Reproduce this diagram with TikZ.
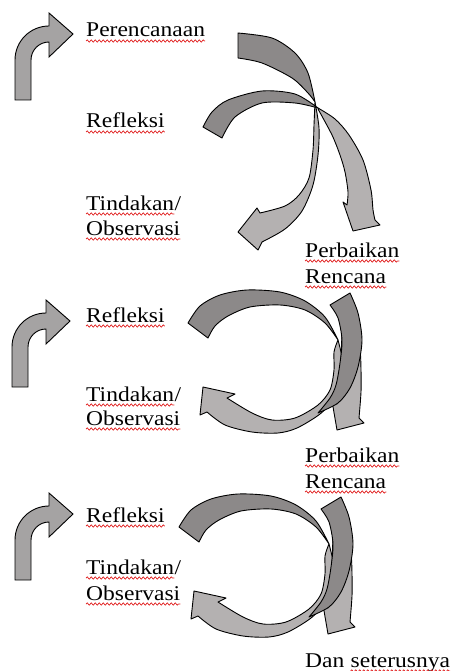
\documentclass[tikz,border=0pt]{standalone}
\usepackage{fontspec}
\setmainfont{Liberation Serif}[FakeStretch=1.12]
\usetikzlibrary{decorations.pathmorphing}
\definecolor{cdark}{RGB}{140,137,137}
\definecolor{clight}{RGB}{180,177,177}
\definecolor{cbent}{RGB}{165,163,163}
\definecolor{csquig}{RGB}{225,30,30}
\tikzset{
  darkf/.style={fill=cdark, draw=black, line width=0.9pt, line join=round},
  lightf/.style={fill=clight, draw=black, line width=0.9pt, line join=round},
  bentf/.style={fill=cbent, draw=black, line width=0.9pt, line join=miter},
  lbl/.style={anchor=base west, inner sep=0pt, font=\fontsize{21pt}{25pt}\selectfont},
  squig/.style={csquig, line width=0.7pt, decorate, decoration={snake, amplitude=1.1pt, segment length=4pt}}
}
\newcommand\squigunder[1]{\draw[squig] ([yshift=-4pt]#1.base west) -- ([yshift=-4pt]#1.base east);}
\newcommand\bentarr{%
  \draw[bentf] (15,100) -- (15,60) .. controls (15,41.2) and (30.2,26) .. (49,26) -- (49,13) -- (73,34) -- (49,57) -- (49,42) .. controls (39.06,42) and (31,50.06) .. (31,60) -- (31,100) -- cycle;}
\newcommand\ringshapes{%
  % big C arrow, light part
  \draw[lightf] plot[smooth] coordinates {(338,340) (343,362) (342,382) (335,398) (320,414) (297,428) (278,433) (252,432) (225,425) (207,412)} -- (200,415) -- (203,387) -- (235,394) -- (227,398) -- plot[smooth] coordinates {(227,398) (252,413) (272,420) (295,418) (318,405) (330,390) (334,370) (334,352) (338,340)} -- cycle;
  % big C arrow, dark part
  \draw[darkf] plot[smooth] coordinates {(188,323) (200,306) (220,295) (247,290) (280,292) (305,301) (325,317) (338,340)} -- plot[smooth] coordinates {(338,340) (325,323) (305,310) (280,305) (250,307) (228,316) (215,326) (208,338)} -- cycle;
  % right arrow, light part
  \draw[lightf] (345,318) -- plot[smooth] coordinates {(355,330) (360,350) (361,370) (361,392) (359,418)} -- (364,423) -- (337,430) -- (332,401) -- (337,404) -- plot[smooth] coordinates {(337,404) (339,385) (341,360) (342,330)} -- cycle;
  % right arrow, dark part
  \draw[darkf] (330,305) -- (350,293) -- plot[smooth] coordinates {(350,293) (358,313) (362,340) (358,367) (350,388) (338,403) (318,413)} -- plot[smooth] coordinates {(318,413) (330,398) (336,385) (340,363) (342,340) (338,318) (330,305)} -- cycle;
}
\begin{document}
\begin{tikzpicture}[x=1pt,y=-1pt]
\useasboundingbox (0,0) rectangle (450,671);
\fill[white] (0,0) rectangle (450,671);

% ---- bent arrows
\bentarr
\begin{scope}[shift={(-3,287)}]\bentarr\end{scope}
\begin{scope}[shift={(0,480)}]\bentarr\end{scope}

% ---- cycle 1
\draw[lightf] plot[smooth] coordinates {(315,102) (319,128) (318,155) (313,185) (302,211) (285,229) (262,242)} -- (258,250) -- (238,232) -- (257,208) -- (260,213) -- plot[smooth] coordinates {(260,213) (285,206) (299,195) (309,178) (313,150) (314,125) (315,102)} -- cycle;
\draw[darkf] plot[smooth] coordinates {(238,33) (272,38) (295,53) (308,73) (315,102)} -- plot[smooth] coordinates {(315,102) (308,93) (292,78) (262,63) (238,58)} -- cycle;
\draw[lightf] plot[smooth] coordinates {(318,108) (335,119) (349,135) (363,160) (371,190) (373,210) (375,220)} -- (380,225) -- (353,231) -- (343,202) -- (347,205) -- plot[smooth] coordinates {(347,205) (348,192) (345,172) (340,155) (332,135) (318,109)} -- cycle;
\draw[darkf] plot[smooth] coordinates {(203,127) (212,112) (228,100) (262,91) (295,94) (318,108)} -- plot[smooth] coordinates {(318,108) (295,103) (262,103) (235,117) (222,138)} -- cycle;

% ---- cycle 2 and 3
\ringshapes
\begin{scope}[shift={(-9,204)}]\ringshapes\end{scope}

% ---- texts, cycle 1
\node[lbl] (p1) at (86,37) {Perencanaan}; \squigunder{p1}
\node[lbl] (r1) at (86,128) {Refleksi}; \squigunder{r1}
\node[lbl] (t1) at (86,210) {Tindakan}; \squigunder{t1}
\node[lbl] (t1s) at (t1.base east) {/};
\node[lbl] (o1) at (86,235) {Observasi}; \squigunder{o1}
\node[lbl] (pb1) at (305,257) {Perbaikan}; \squigunder{pb1}
\node[lbl] (rc1) at (305,283) {Rencana}; \squigunder{rc1}

% ---- texts, cycle 2
\node[lbl] (r2) at (86,322) {Refleksi}; \squigunder{r2}
\node[lbl] (t2) at (86,401) {Tindakan}; \squigunder{t2}
\node[lbl] (t2s) at (t2.base east) {/};
\node[lbl] (o2) at (86,425) {Observasi}; \squigunder{o2}
\node[lbl] (pb2) at (305,462) {Perbaikan}; \squigunder{pb2}
\node[lbl] (rc2) at (305,488) {Rencana}; \squigunder{rc2}

% ---- texts, cycle 3
\node[lbl] (r3) at (86,522) {Refleksi}; \squigunder{r3}
\node[lbl] (t3) at (86,574) {Tindakan}; \squigunder{t3}
\node[lbl] (t3s) at (t3.base east) {/};
\node[lbl] (o3) at (86,600) {Observasi}; \squigunder{o3}
\node[lbl] (dan) at (305,667) {Dan};
\node[lbl] (ster) at ([xshift=5.9pt]dan.base east) {seterusnya}; \squigunder{ster}
\end{tikzpicture}
\end{document}
